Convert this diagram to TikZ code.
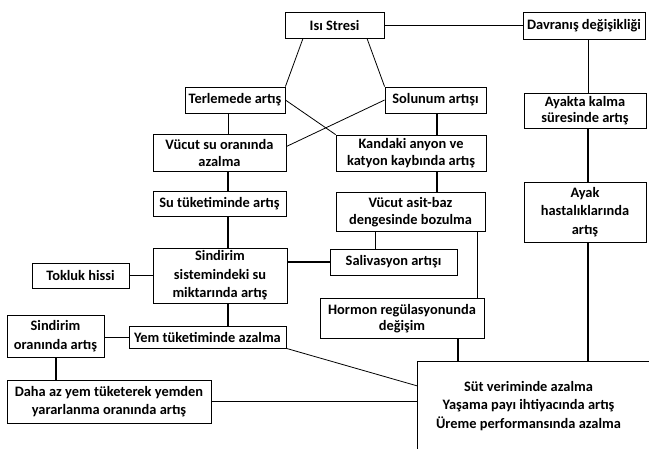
\documentclass[tikz,border=0pt]{standalone}
\usepackage{fontspec}
\setmainfont{Carlito}
\begin{document}
\begin{tikzpicture}[x=1pt,y=-1pt,
  box/.style={draw,line width=0.8pt,inner sep=0pt,align=center,font=\bfseries\fontsize{14.4}{16.5}\selectfont},
  wide/.style={font=\bfseries\fontsize{14.4}{18.5}\selectfont},
  thinln/.style={line width=0.8pt},
  thickln/.style={line width=1.7pt}]
\useasboundingbox (0,0) rectangle (649,448);
\clip (0,0) rectangle (649,448);
\fill[white] (0,0) rectangle (649,448);
% nodes
\node[box,minimum width=99pt,minimum height=26pt] (isi) at (334.5,25) {Isı Stresi};
\node[box,minimum width=122pt,minimum height=27pt] (dav) at (584,25.5) {Davranış değişikliği};
\node[box,minimum width=100pt,minimum height=26pt] (ter) at (235,100) {Terlemede artış};
\node[box,minimum width=101pt,minimum height=26pt] (sol) at (435.5,100) {Solunum artışı};
\node[box,minimum width=133pt,minimum height=37pt] (vsu) at (219.5,153) {Vücut su oranında\\azalma};
\node[box,minimum width=150pt,minimum height=36pt] (kan) at (411,153) {Kandaki anyon ve\\katyon kaybında artış};
\node[box,minimum width=122pt,minimum height=35pt] (aya) at (585,110.5) {Ayakta kalma\\süresinde artış};
\node[box,wide,minimum width=122pt,minimum height=60pt] (ayk) at (585,212) {Ayak\\hastalıklarında\\artış};
\node[box,minimum width=149pt,minimum height=39pt] (asit) at (410.5,212) {Vücut asit-baz\\dengesinde bozulma};
\node[box,minimum width=133pt,minimum height=25pt] (stk) at (219.5,203.5) {Su tüketiminde artış};
\node[box,wide,minimum width=134pt,minimum height=55pt] (sin) at (220,275.5) {Sindirim\\sistemindeki su\\miktarında artış};
\node[box,minimum width=97pt,minimum height=25pt] (tok) at (80.5,275.5) {Tokluk hissi};
\node[box,minimum width=127pt,minimum height=26pt] (sal) at (393.5,262) {Salivasyon artışı};
\node[box,minimum width=164pt,minimum height=40pt] (hor) at (402,318.5) {Hormon regülasyonunda\\değişim};
\node[box,minimum width=157pt,minimum height=22pt] (yem) at (207.5,337) {Yem tüketiminde azalma};
\node[box,wide,minimum width=97pt,minimum height=42pt] (sor) at (55.5,336) {Sindirim\\oranında artış};
\node[box,wide,minimum width=204pt,minimum height=43pt] (daha) at (109,401.5) {Daha az yem tüketerek yemden\\yararlanma oranında artış};
\node[box,wide,draw=none,minimum width=221pt,minimum height=88pt] (sut) at (528.5,406) {Süt veriminde azalma\\Yaşama payı ihtiyacında artış\\Üreme performansında azalma};
\draw[thinln] (sut.north west) rectangle ([xshift=20pt,yshift=-20pt]sut.south east);
% connectors
\draw[thinln] (isi.east) -- (isi.east -| dav.west);
\draw[thinln] ([xshift=-31.5pt]isi.south) -- (ter.north east);
\draw[thinln] ([xshift=32.5pt]isi.south) -- (sol.north west);
\draw[thinln] ([xshift=-7pt]ter.south) -- ([xshift=-7pt]ter.south |- vsu.north);
\draw[thinln] (sol.west) -- ([yshift=6.5pt]vsu.east);
\draw[thinln] (ter.east) -- (kan.north west);
\draw[thickln] ([xshift=1.5pt]sol.south) -- ([xshift=1.5pt]sol.south |- kan.north);
\draw[thinln] ([xshift=4pt]dav.south) -- ([xshift=4pt]dav.south |- aya.north);
\draw[thickln] ([xshift=3pt]aya.south) -- ([xshift=3pt]aya.south |- ayk.north);
\draw[thickln] ([xshift=26pt]kan.south) -- ([xshift=26pt]kan.south |- asit.north);
\draw[thickln] ([xshift=8.5pt]vsu.south) -- ([xshift=8.5pt]vsu.south |- stk.north);
\draw[thickln] ([xshift=8.5pt]stk.south) -- ([xshift=8.5pt]stk.south |- sin.north);
\draw[line width=1.2pt] (tok.east) -- (tok.east -| sin.west);
\draw[thickln] ([yshift=13.5pt]sin.east) -- ([yshift=13.5pt]sin.east -| sal.west);
\draw[thinln] ([xshift=-35.5pt]asit.south) -- ([xshift=-35.5pt]asit.south |- sal.north);
\draw[thinln] ([xshift=66.5pt]asit.south) -- ([xshift=66.5pt]asit.south |- hor.north);
\draw[thickln] ([xshift=56pt]hor.south) -- ([xshift=56pt]hor.south |- sut.north);
\draw[thickln] ([xshift=3pt]ayk.south) -- ([xshift=3pt]ayk.south |- sut.north);
\draw[thickln] ([xshift=8pt]sin.south) -- ([xshift=8pt]sin.south |- yem.north);
\draw[thinln] (yem.west) -- (yem.west -| sor.east);
\draw[thickln] ([xshift=0.5pt]sor.south) -- ([xshift=0.5pt]sor.south |- daha.north);
\draw[thinln] (daha.east) -- (daha.east -| sut.west);
\draw[thinln] (yem.south east) -- ([yshift=20pt]sut.west);
\end{tikzpicture}
\end{document}
